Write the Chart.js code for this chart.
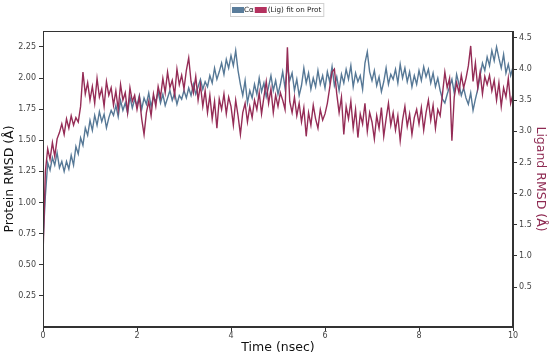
<!DOCTYPE html>
<html>
<head>
<meta charset="utf-8">
<script src="https://cdn.jsdelivr.net/npm/chart.js@4.4.1/dist/chart.umd.min.js"></script>
<style>
  html, body { margin: 0; padding: 0; background: #fff; }
  #wrap { width: 550px; height: 357px; }
</style>
</head>
<body>
<div id="wrap"><canvas id="c" width="550" height="357"></canvas></div>
<script>
// ---- data ----
const timeStep = 0.05; // nsec between samples
const proteinRmsd = [
  0.68, 1.05, 1.32, 1.26, 1.36, 1.30, 1.40, 1.28, 1.33, 1.25,
  1.33, 1.27, 1.38, 1.30, 1.45, 1.39, 1.52, 1.46, 1.60, 1.54,
  1.66, 1.58, 1.70, 1.62, 1.73, 1.65, 1.71, 1.60, 1.68, 1.74,
  1.70, 1.78, 1.69, 1.82, 1.74, 1.80, 1.72, 1.85, 1.76, 1.83,
  1.78, 1.86, 1.75, 1.84, 1.79, 1.88, 1.77, 1.85, 1.81, 1.89,
  1.80, 1.87, 1.78, 1.84, 1.90, 1.82, 1.88, 1.79, 1.86, 1.83,
  1.90, 1.84, 1.92, 1.86, 1.95, 1.87, 1.93, 1.99, 1.91, 1.97,
  1.93, 2.02, 1.96, 2.08, 1.99, 2.05, 2.12, 2.03, 2.15, 2.08,
  2.18, 2.10, 2.22, 2.06, 1.95, 1.86, 1.98, 1.80, 1.90, 1.84,
  1.95, 1.87, 2.00, 1.89, 1.96, 1.85, 1.93, 2.02, 1.90, 1.98,
  1.87, 1.95, 2.05, 1.92, 2.10, 1.98, 2.04, 1.90, 1.99, 1.86,
  1.94, 2.08, 1.96, 2.04, 1.91, 2.00, 1.93, 2.06, 1.95, 2.02,
  1.92, 2.05, 1.97, 2.09, 1.94, 2.01, 1.90, 2.03, 1.96, 2.07,
  1.99, 2.10, 1.93, 2.04, 1.97, 2.02, 1.91, 2.12, 2.21, 2.05,
  1.98, 2.06, 1.94, 2.01, 1.89, 1.97, 2.08, 1.95, 2.03, 1.99,
  2.07, 1.96, 2.11, 2.00, 2.08, 1.97, 2.05, 1.93, 2.02, 1.95,
  2.06, 1.98, 2.09, 2.01, 2.07, 1.96, 2.04, 1.93, 2.00, 1.90,
  1.83, 1.80, 1.87, 1.93, 1.99, 1.88, 2.03, 1.95, 1.86, 1.92,
  1.84, 1.79, 1.88, 1.74, 1.83, 1.91, 2.02, 2.12, 2.06, 2.17,
  2.10, 2.22, 2.14, 2.25, 2.16, 2.08, 2.19, 2.04, 2.11, 2.02, 2.09
];
const ligandRmsd = [
  1.00, 2.35, 2.72, 2.55, 2.82, 2.60, 2.88, 2.98, 3.12, 2.95,
  3.20, 3.05, 3.25, 3.10, 3.22, 3.15, 3.40, 3.95, 3.60, 3.78,
  3.50, 3.72, 3.45, 3.85, 3.55, 3.68, 3.40, 3.80, 3.58, 3.70,
  3.42, 3.65, 3.35, 3.75, 3.50, 3.62, 3.30, 3.70, 3.48, 3.58,
  3.35, 3.55, 3.20, 2.95, 3.30, 3.48, 3.25, 3.60, 3.40, 3.72,
  3.55, 3.85, 3.62, 3.95, 3.70, 3.82, 3.58, 4.00, 3.75, 3.90,
  3.68, 3.98, 4.18, 3.80, 3.62, 3.88, 3.50, 3.75, 3.40, 3.65,
  3.30, 3.58, 3.20, 3.48, 3.05, 3.52, 3.35, 3.60, 3.28, 3.55,
  3.40, 3.10, 3.50, 3.25, 2.95, 3.30, 3.45, 3.15, 3.40, 3.22,
  3.50, 3.35, 3.62, 3.28, 3.55, 3.80, 3.45, 3.68, 3.30, 3.58,
  3.40, 3.62, 3.50, 3.35, 4.35, 3.48, 3.30, 3.55, 3.25, 3.45,
  3.15, 3.38, 2.92, 3.30, 3.10, 3.42, 3.20, 3.05, 3.35, 3.18,
  3.28, 3.45, 3.70, 3.95, 4.00, 3.60, 3.30, 3.55, 2.95, 3.40,
  3.20, 3.48, 3.05, 3.35, 2.90, 3.28, 3.12, 3.45, 3.00, 3.30,
  3.15, 2.88, 3.25, 3.05, 3.38, 2.92, 3.20, 3.45, 3.10, 3.30,
  3.02, 3.25, 2.85, 3.18, 3.40, 3.08, 3.28, 2.95, 3.22, 3.35,
  3.12, 3.38, 3.02, 3.30, 3.50, 3.18, 3.42, 3.05, 3.35, 3.25,
  3.60, 3.95, 3.70, 3.85, 2.85, 3.55, 3.78, 3.62, 3.90, 3.70,
  3.85, 4.05, 4.37, 3.80, 4.10, 3.70, 3.95, 3.60, 3.88, 3.75,
  3.90, 3.65, 3.82, 3.50, 3.78, 3.40, 3.70, 3.55, 3.85, 3.45, 3.60
];
const timeTicks = [0, 2, 4, 6, 8, 10];
const proteinTicks = [0.25, 0.50, 0.75, 1.00, 1.25, 1.50, 1.75, 2.00, 2.25];
const ligandTicks = [0.5, 1.0, 1.5, 2.0, 2.5, 3.0, 3.5, 4.0, 4.5];
const seriesLabels = ['C\u03B1', '(Lig) fit on Prot'];

// ---- styling ----
const FONT = "'DejaVu Sans', 'Liberation Sans', sans-serif";
const protColor = '#567896';
const ligColor = '#952c56';
const protSwatch = '#5a7d9b';
const ligSwatch = '#b4325f';
const axisColor = '#333333';
const tickLabelColor = '#444444';

const times = proteinRmsd.map((_, i) => +(i * timeStep).toFixed(2));
const protData = proteinRmsd.map((v, i) => ({ x: times[i], y: v }));
const ligData = ligandRmsd.map((v, i) => ({ x: times[i], y: v }));

const frameAndLegend = {
  id: 'frameAndLegend',
  afterDraw(chart) {
    const ctx = chart.ctx;
    const a = chart.chartArea;
    ctx.save();
    ctx.strokeStyle = axisColor;
    ctx.lineWidth = 1;
    ctx.strokeRect(Math.round(a.left) + 0.5, Math.round(a.top) + 0.5,
                   Math.round(a.right - a.left) - 1, Math.round(a.bottom - a.top) - 1);
    // legend box (matplotlib-like, compact)
    ctx.font = '7.2px ' + FONT;
    const sw = 12, sh = 6;
    const w1 = ctx.measureText(seriesLabels[0]).width;
    const w2 = ctx.measureText(seriesLabels[1]).width;
    const pad = 2;
    const total = pad + sw + w1 + 1 + sw + 1 + w2 + pad;
    const cx = 276.5;
    let x = Math.round(cx - total / 2);
    const top = 3.5, h = 13;
    ctx.fillStyle = 'rgba(255,255,255,0.9)';
    ctx.fillRect(x + 0.5, top, total, h);
    ctx.strokeStyle = '#d0d0d0';
    ctx.lineWidth = 1;
    ctx.strokeRect(x + 0.5, top, total, h);
    let px = x + pad;
    const sy = top + (h - sh) / 2;
    ctx.fillStyle = protSwatch;
    ctx.fillRect(px, sy, sw, sh);
    px += sw;
    ctx.fillStyle = '#222';
    ctx.textBaseline = 'middle';
    ctx.fillText(seriesLabels[0], px, top + h / 2 + 0.5);
    px += w1 + 1;
    ctx.fillStyle = ligSwatch;
    ctx.fillRect(px, sy, sw, sh);
    px += sw + 1;
    ctx.fillStyle = '#222';
    ctx.fillText(seriesLabels[1], px, top + h / 2 + 0.5);
    ctx.restore();
  }
};

new Chart(document.getElementById('c'), {
  type: 'line',
  data: {
    datasets: [
      { label: seriesLabels[0], data: protData, yAxisID: 'y', borderColor: protColor,
        borderWidth: 1.4, pointRadius: 0, tension: 0, order: 2 },
      { label: seriesLabels[1], data: ligData, yAxisID: 'y1', borderColor: ligColor,
        borderWidth: 1.4, pointRadius: 0, tension: 0, order: 1 }
    ]
  },
  options: {
    responsive: false,
    animation: false,
    events: [],
    layout: { padding: { top: 31, left: 0, right: 0, bottom: 0 } },
    plugins: { legend: { display: false }, tooltip: { enabled: false } },
    scales: {
      x: {
        type: 'linear', min: 0, max: 10,
        afterFit: s => { s.height = 30; },
        afterBuildTicks: s => { s.ticks = timeTicks.map(v => ({ value: v })); },
        ticks: { color: tickLabelColor, font: { family: FONT, size: 8 }, padding: 0, maxRotation: 0,
                 callback: v => String(v) },
        grid: { display: true, drawOnChartArea: false, drawTicks: true, tickLength: 4, color: axisColor },
        border: { display: true, color: axisColor },
        title: { display: true, text: 'Time (nsec)', color: '#111', font: { family: FONT, size: 12.5 },
                 padding: { top: 0, bottom: 2 } }
      },
      y: {
        type: 'linear', position: 'left', min: 0, max: 2.378,
        afterFit: s => { s.width = 43; },
        afterBuildTicks: s => { s.ticks = proteinTicks.map(v => ({ value: v })); },
        ticks: { color: tickLabelColor, font: { family: FONT, size: 8 }, padding: 3,
                 callback: v => Number(v).toFixed(2) },
        grid: { display: true, drawOnChartArea: false, drawTicks: true, tickLength: 4, color: axisColor },
        border: { display: true, color: axisColor },
        title: { display: true, text: 'Protein RMSD (\u00C5)', color: '#111', font: { family: FONT, size: 12.5 },
                 padding: { top: 2, bottom: 0 } }
      },
      y1: {
        type: 'linear', position: 'right', min: -0.14, max: 4.61,
        afterFit: s => { s.width = 37; },
        afterBuildTicks: s => { s.ticks = ligandTicks.map(v => ({ value: v })); },
        ticks: { color: tickLabelColor, font: { family: FONT, size: 8 }, padding: 2,
                 callback: v => Number(v).toFixed(1) },
        grid: { display: true, drawOnChartArea: false, drawTicks: true, tickLength: 4, color: axisColor },
        border: { display: true, color: axisColor },
        title: { display: true, text: 'Ligand RMSD (\u00C5)', color: '#8e2a52', font: { family: FONT, size: 12.5 },
                 padding: { top: 2, bottom: 0 } }
      }
    }
  },
  plugins: [frameAndLegend]
});
</script>
</body>
</html>
